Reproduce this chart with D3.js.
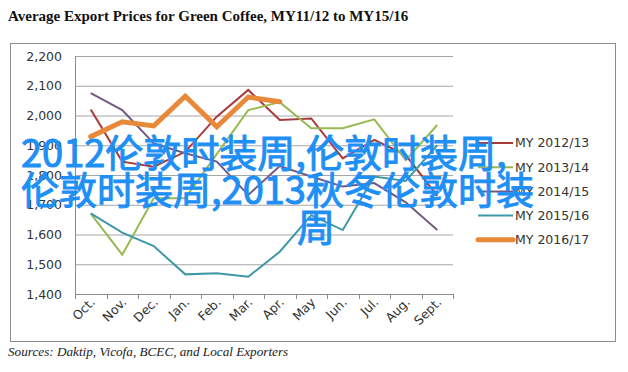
<!DOCTYPE html>
<html>
<head>
<meta charset="utf-8">
<script src="https://cdn.jsdelivr.net/npm/d3@7"></script>
<style>
  html, body { margin: 0; padding: 0; background: #fff; }
  svg { display: block; }
</style>
</head>
<body>
<svg id="chart"></svg>
<script>
// chart data
const months = ['Oct.', 'Nov.', 'Dec.', 'Jan.', 'Feb.', 'Mar.', 'Apr.', 'May', 'Jun.', 'Jul.', 'Aug.', 'Sept.'];
const seriesNames = ['MY 2012/13', 'MY 2013/14', 'MY 2014/15', 'MY 2015/16', 'MY 2016/17'];
const my1213 = [2020, 1845, 1828, 1878, 1996, 2086, 1985, 1990, 1856, 1918, 1867, 1730];
const my1314 = [1670, 1532, 1722, 1722, 1870, 2018, 2045, 1957, 1957, 1987, 1850, 1968];
const my1415 = [2075, 2018, 1906, 1873, 1845, 1733, 1830, 1795, 1761, 1773, 1708, 1615];
const my1516 = [1671, 1606, 1561, 1466, 1470, 1458, 1542, 1665, 1615, 1795, 1780, 1900];
const my1617 = [1929, 1979, 1965, 2065, 1962, 2062, 2046];
const yTicks = [1400, 1500, 1600, 1700, 1800, 1900, 2000, 2100, 2200];
const overlayLines = ['2012伦敦时装周,伦敦时装周,', '伦敦时装周,2013秋冬伦敦时装', '周'];

const seriesColors = ['#a93a3c', '#98b954', '#745a82', '#3f98a8', '#e8893a'];
const seriesWidths = [2, 2, 2, 2, 5];

function drawChart() {
    const width = 628;
    const height = 372;

    const svg = d3.select('#chart')
        .attr('width', width)
        .attr('height', height);

    // Title
    svg.append('text')
        .attr('x', 8)
        .attr('y', 21)
        .attr('font-family', '"Liberation Serif", serif')
        .attr('font-weight', 'bold')
        .attr('font-size', 15)
        .attr('fill', '#111')
        .text('Average Export Prices for Green Coffee, MY11/12 to MY15/16');

    // Chart frame
    svg.append('rect')
        .attr('x', 10.5)
        .attr('y', 43.5)
        .attr('width', 605)
        .attr('height', 298)
        .attr('fill', '#fff')
        .attr('stroke', '#8c8c8c')
        .attr('stroke-width', 1);

    const x = d3.scaleBand()
        .domain(months)
        .range([75, 453]);

    const y = d3.scaleLinear()
        .domain([1400, 2200])
        .range([294, 56]);

    const cx = m => x(m) + x.bandwidth() / 2;

    // Gridlines and y labels
    const yAxis = svg.append('g')
        .attr('transform', 'translate(75,0)')
        .call(d3.axisLeft(y)
            .tickValues(yTicks)
            .tickSize(-378)
            .tickPadding(13)
            .tickFormat(d3.format(',')));
    yAxis.select('.domain').remove();
    yAxis.selectAll('.tick line')
        .attr('stroke', '#a6a6a6');
    yAxis.selectAll('.tick text')
        .attr('font-family', '"DejaVu Sans", sans-serif')
        .attr('font-size', 12.5)
        .attr('fill', '#333');

    // Vertical axis line
    svg.append('line')
        .attr('x1', 75.5).attr('x2', 75.5)
        .attr('y1', y(2200)).attr('y2', y(1400))
        .attr('stroke', '#8c8c8c');

    // Horizontal axis with ticks between categories
    svg.append('line')
        .attr('x1', 75).attr('x2', 453)
        .attr('y1', y(1400) + 0.5).attr('y2', y(1400) + 0.5)
        .attr('stroke', '#8c8c8c');
    const edges = months.map(m => x(m)).concat([x(months[months.length - 1]) + x.bandwidth()]);
    svg.append('g')
        .selectAll('line')
        .data(edges)
        .join('line')
        .attr('x1', d => Math.round(d) + 0.5)
        .attr('x2', d => Math.round(d) + 0.5)
        .attr('y1', y(1400))
        .attr('y2', y(1400) + 5)
        .attr('stroke', '#8c8c8c');

    // Rotated month labels
    svg.append('g')
        .selectAll('text')
        .data(months)
        .join('text')
        .attr('transform', d => `translate(${cx(d) + 5},${y(1400) + 9}) rotate(-45)`)
        .attr('text-anchor', 'end')
        .attr('font-family', '"DejaVu Sans", sans-serif')
        .attr('font-size', 12.5)
        .attr('fill', '#333')
        .text(d => d);

    // Lines
    const allSeries = [my1213, my1314, my1415, my1516, my1617];
    const line = d3.line()
        .x((d, i) => cx(months[i]))
        .y(d => y(d));

    allSeries.forEach((values, i) => {
        svg.append('path')
            .datum(values)
            .attr('d', line)
            .attr('fill', 'none')
            .attr('stroke', seriesColors[i])
            .attr('stroke-width', seriesWidths[i])
            .attr('stroke-linejoin', 'miter')
            .attr('stroke-linecap', i === 4 ? 'round' : 'butt');
    });

    // Legend
    const legend = svg.append('g');
    seriesNames.forEach((name, i) => {
        const ly = 143 + i * 24.2;
        legend.append('line')
            .attr('x1', 478).attr('x2', 513)
            .attr('y1', ly).attr('y2', ly)
            .attr('stroke', seriesColors[i])
            .attr('stroke-width', seriesWidths[i])
            .attr('stroke-linecap', i === 4 ? 'round' : 'butt');
        legend.append('text')
            .attr('x', 515)
            .attr('y', ly)
            .attr('dy', '0.35em')
            .attr('font-family', '"DejaVu Sans", sans-serif')
            .attr('font-size', 12.5)
            .attr('fill', '#333')
            .text(name);
    });

    // Sources note
    svg.append('text')
        .attr('x', 8)
        .attr('y', 356)
        .attr('font-family', '"Liberation Serif", serif')
        .attr('font-style', 'italic')
        .attr('font-size', 13.2)
        .attr('fill', '#222')
        .text('Sources: Daktip, Vicofa, BCEC, and Local Exporters');

    // Overlay caption
    const overlayX = [21, 21, 297];
    const overlayY = [167, 204, 241];
    svg.append('g')
        .selectAll('text')
        .data(overlayLines)
        .join('text')
        .attr('x', (d, i) => overlayX[i])
        .attr('y', (d, i) => overlayY[i])
        .attr('font-family', '"Noto Sans CJK SC", sans-serif')
        .attr('font-size', 38)
        .attr('fill', '#1e8ff5')
        .attr('stroke', '#1e8ff5')
        .attr('stroke-width', 1)
        .text(d => d);
}

drawChart();
</script>
</body>
</html>
